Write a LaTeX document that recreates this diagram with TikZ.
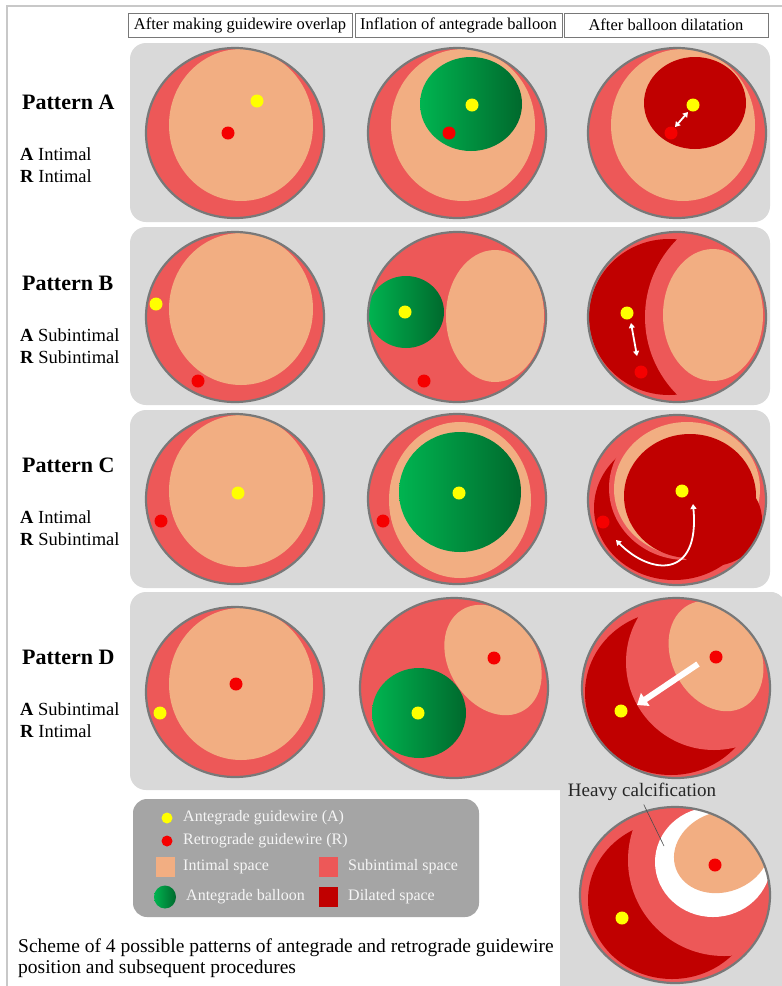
\documentclass[tikz,border=0pt]{standalone}
\usepackage{fontspec}
\setmainfont{Liberation Serif}
\usetikzlibrary{arrows.meta}
\definecolor{subint}{RGB}{237,88,88}
\definecolor{intim}{RGB}{242,174,130}
\definecolor{dilat}{RGB}{192,0,0}
\definecolor{rimgray}{RGB}{120,120,120}
\definecolor{panelgray}{RGB}{217,217,217}
\definecolor{keygray}{RGB}{165,165,165}
\definecolor{keytext}{RGB}{245,245,245}
\definecolor{framegray}{RGB}{200,200,200}
\definecolor{balA}{RGB}{0,180,80}
\definecolor{balB}{RGB}{0,105,45}
\definecolor{wireA}{RGB}{255,255,0}
\definecolor{wireR}{RGB}{245,0,0}
\begin{document}
\begin{tikzpicture}[x=1pt,y=-1pt,
rim/.style={draw=rimgray,line width=2.2pt},
panel/.style={fill=panelgray,rounded corners=16pt},
awire/.style={fill=wireA},
rwire/.style={fill=wireR},
balloon/.style={left color=balA,right color=balB},
dbl/.style={white,line width=1.8pt,>={Triangle[length=5pt,width=6pt]},<->},
head/.style={draw=rimgray,line width=0.7pt,fill=white,inner sep=0pt,minimum height=24pt,font=\fontsize{16.5}{19}\selectfont},
patlabel/.style={anchor=west,inner sep=0pt,font=\bfseries\fontsize{22}{26}\selectfont},
wirelabel/.style={anchor=west,inner sep=0pt,font=\fontsize{18.5}{22}\selectfont},
keylabel/.style={anchor=west,inner sep=0pt,text=keytext,font=\fontsize{16}{19}\selectfont},
caption/.style={anchor=base west,inner sep=0pt,font=\fontsize{19.5}{22}\selectfont}]
\useasboundingbox (0,0) rectangle (782,986);
\fill[white] (0,0) rectangle (782,986);
\draw[framegray,line width=1.3pt] (7,990) -- (7,6) -- (790,6);

\foreach \n/\x/\w/\t in {1/240/224/After making guidewire overlap,2/458.5/207/Inflation of antegrade balloon,3/666/204/After balloon dilatation}
\node[head,minimum width=\w pt] (head\n) at (\x,25) {\t};

\fill[panel] (130,43) rectangle (770,222);
\fill[panel] (130,227) rectangle (770,405);
\fill[panel] (130,410) rectangle (770,588);
\fill[panel] (130,592) rectangle (786,790);
\fill[panel] (560,592) rectangle (786,1000);

\foreach \p/\y/\a/\r in {A/102/Intimal/Intimal,B/283/Subintimal/Subintimal,C/465/Intimal/Subintimal,D/657/Subintimal/Intimal}
{
\node[patlabel] (pat\p) at (22,\y) {Pattern \p};
\node[wirelabel] (ant\p) at (20,\y+52) {\textbf{A} \a};
\node[wirelabel] (ret\p) at (20,\y+74) {\textbf{R} \r};
}

\foreach \cy/\xa/\ya/\xr/\yr in {133/257/101/228/133,317/156/304/198/381,499/238/493/161/521,692/160/713/236/684}
{
\fill[subint] (235,\cy) ellipse [x radius=89pt,y radius=85pt];
\fill[intim] (241,\cy-8) ellipse [x radius=72pt,y radius=76pt];
\draw[rim] (235,\cy) ellipse [x radius=89pt,y radius=85pt];
\fill[awire] (\xa,\ya) circle [radius=6.5pt];
\fill[rwire] (\xr,\yr) circle [radius=6.5pt];
}

\fill[subint] (457,133) ellipse [x radius=89pt,y radius=85pt];
\fill[intim] (463,125) ellipse [x radius=72pt,y radius=76pt];
\shade[balloon] (471,104) ellipse [x radius=51pt,y radius=47pt];
\draw[rim] (457,133) ellipse [x radius=89pt,y radius=85pt];
\fill[awire] (472,105) circle [radius=6.5pt];
\fill[rwire] (449,133) circle [radius=6.5pt];

\fill[subint] (677,133) ellipse [x radius=89pt,y radius=85pt];
\fill[intim] (683,125) ellipse [x radius=72pt,y radius=76pt];
\fill[dilat] (695,103) ellipse [x radius=51pt,y radius=46pt];
\draw[rim] (677,133) ellipse [x radius=89pt,y radius=85pt];
\fill[awire] (693,105) circle [radius=6.5pt];
\fill[rwire] (671,133) circle [radius=6.5pt];
\draw[dbl] (675,127) -- (688,112);

\fill[subint] (457,317) ellipse [x radius=89pt,y radius=85pt];
\fill[intim] (495,316) ellipse [x radius=49pt,y radius=66pt];
\shade[balloon] (406,312) ellipse [x radius=38pt,y radius=36pt];
\draw[rim] (457,317) ellipse [x radius=89pt,y radius=85pt];
\fill[awire] (405,312) circle [radius=6.5pt];
\fill[rwire] (424,381) circle [radius=6.5pt];

\begin{scope}
\clip (677,317) ellipse [x radius=89pt,y radius=85pt];
\fill[subint] (677,317) ellipse [x radius=89pt,y radius=85pt];
\fill[dilat] (669,317) ellipse [x radius=80pt,y radius=78pt];
\fill[subint] (755,317) circle [radius=110pt];
\fill[intim] (713,315) ellipse [x radius=50pt,y radius=66pt];
\end{scope}
\draw[rim] (677,317) ellipse [x radius=89pt,y radius=85pt];
\fill[awire] (627,313) circle [radius=6.5pt];
\fill[rwire] (641,372) circle [radius=6.5pt];
\draw[dbl] (631,323) -- (637,356);

\fill[subint] (457,499) ellipse [x radius=89pt,y radius=85pt];
\fill[intim] (460,500) ellipse [x radius=71pt,y radius=78pt];
\shade[balloon] (460,492) ellipse [x radius=61pt,y radius=60pt];
\draw[rim] (457,499) ellipse [x radius=89pt,y radius=85pt];
\fill[awire] (459,493) circle [radius=6.5pt];
\fill[rwire] (383,521) circle [radius=6.5pt];

\begin{scope}
\clip (677,500) ellipse [x radius=89pt,y radius=85pt];
\fill[subint] (677,500) ellipse [x radius=89pt,y radius=85pt];
\fill[dilat] (674,508) ellipse [x radius=80pt,y radius=72pt];
\fill[subint] (686,488) ellipse [x radius=77pt,y radius=72pt];
\fill[intim] (687,489) ellipse [x radius=73pt,y radius=67pt];
\fill[dilat] (690,496) ellipse [x radius=66pt,y radius=62pt];
\fill[dilat] (712,520) ellipse [x radius=50pt,y radius=46pt];
\end{scope}
\draw[rim] (677,500) ellipse [x radius=89pt,y radius=85pt];
\fill[awire] (682,491) circle [radius=6.5pt];
\fill[rwire] (603,522) circle [radius=6.5pt];
\draw[dbl] (616,540) .. controls (650,575) and (700,580) .. (693,504);

\fill[subint] (454,688) ellipse [x radius=94pt,y radius=90pt];
\begin{scope}
\clip (454,688) ellipse [x radius=94pt,y radius=90pt];
\fill[intim,rotate around={32:(493,660)}] (493,660) ellipse [x radius=44pt,y radius=59pt];
\end{scope}
\shade[balloon] (419,713) ellipse [x radius=47pt,y radius=45pt];
\draw[rim] (454,688) ellipse [x radius=94pt,y radius=90pt];
\fill[awire] (418,713) circle [radius=6.5pt];
\fill[rwire] (494,658) circle [radius=6.5pt];

\begin{scope}
\clip (676,688) ellipse [x radius=94pt,y radius=90pt];
\fill[subint] (676,688) ellipse [x radius=94pt,y radius=90pt];
\fill[dilat] (671,693) ellipse [x radius=86pt,y radius=82pt];
\fill[subint] (714,662) circle [radius=88pt];
\fill[intim,rotate around={28:(716,656)}] (716,656) ellipse [x radius=44pt,y radius=58pt];
\end{scope}
\draw[rim] (676,688) ellipse [x radius=94pt,y radius=90pt];
\fill[awire] (621,711) circle [radius=6.5pt];
\fill[rwire] (716,657) circle [radius=6.5pt];
\draw[white,line width=6pt,-{Triangle[length=10pt,width=15pt]}] (698,664) -- (637,705);

\begin{scope}
\clip (675,895) ellipse [x radius=95pt,y radius=88pt];
\fill[subint] (675,895) ellipse [x radius=95pt,y radius=88pt];
\fill[dilat] (672,900) ellipse [x radius=84pt,y radius=79pt];
\fill[subint] (724,860) circle [radius=96pt];
\fill[white] (713,862) ellipse [x radius=58pt,y radius=55pt];
\fill[intim,rotate around={20:(722,852)}] (722,852) ellipse [x radius=49pt,y radius=40pt];
\end{scope}
\draw[rim] (675,895) ellipse [x radius=95pt,y radius=88pt];
\fill[awire] (622,918) circle [radius=6.5pt];
\fill[rwire] (715,865) circle [radius=6.5pt];
\node[inner sep=0pt,text=black!85,font=\fontsize{19}{22}\selectfont] (hcal) at (642,792) {Heavy calcification};
\coordinate (calctip) at (664,846);
\draw[black!70,line width=0.6pt,shorten <=4pt] (hcal.south) -- (calctip);

\fill[keygray,rounded corners=14pt] (133,799) rectangle (479,917);
\fill[awire] (167,818) circle [radius=5.5pt];
\fill[rwire] (167,841) circle [radius=5.5pt];
\fill[intim] (156,857) rectangle (175,877);
\fill[subint] (319,857) rectangle (338,877);
\shade[balloon] (165,897) ellipse [x radius=11pt,y radius=11.5pt];
\fill[dilat] (319,887) rectangle (338,907);
\node[keylabel] (keyA) at (183,818) {Antegrade guidewire (A)};
\node[keylabel] (keyR) at (183,841) {Retrograde guidewire (R)};
\node[keylabel] (keyI) at (183,867) {Intimal space};
\node[keylabel] (keyS) at (348,867) {Subintimal space};
\node[keylabel] (keyB) at (186,897) {Antegrade balloon};
\node[keylabel] (keyD) at (348,897) {Dilated space};

\node[caption] (capA) at (18,952) {Scheme of 4 possible patterns of antegrade and retrograde guidewire};
\node[caption] (capB) at (18,973) {position and subsequent procedures};
\end{tikzpicture}
\end{document}
